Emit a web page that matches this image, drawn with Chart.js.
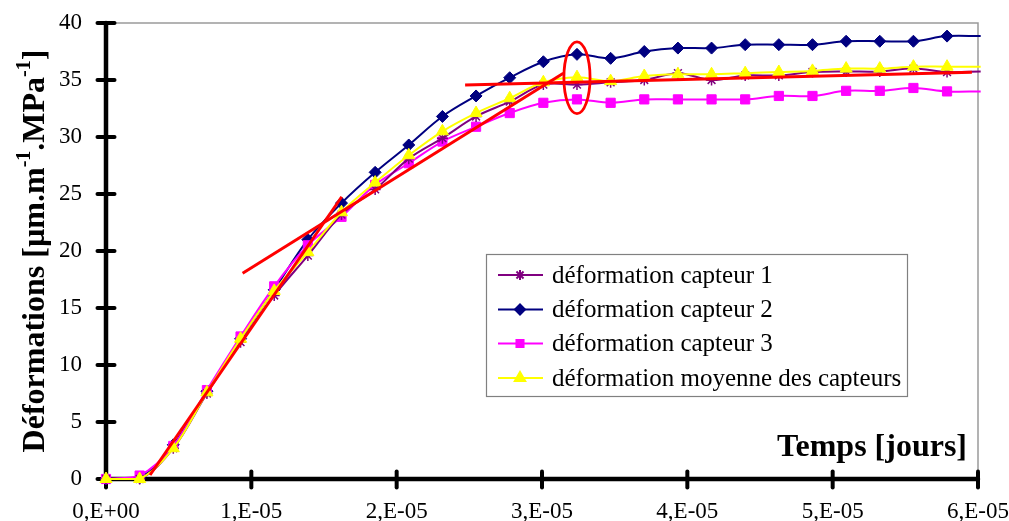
<!DOCTYPE html>
<html>
<head>
<meta charset="utf-8">
<script src="https://cdn.jsdelivr.net/npm/chart.js@4.4.1/dist/chart.umd.min.js"></script>
<style>
  html, body { margin: 0; padding: 0; background: #ffffff; }
  #wrap { position: relative; width: 1009px; height: 521px; }
</style>
</head>
<body>
<div id="wrap"><canvas id="c" width="1009" height="521"></canvas></div>
<script>
// ---- data ----
const timeDays = [0, 2.315e-6, 4.630e-6, 6.944e-6, 9.259e-6, 1.1574e-5, 1.3889e-5, 1.6204e-5, 1.8519e-5,
  2.0833e-5, 2.3148e-5, 2.5463e-5, 2.7778e-5, 3.0093e-5, 3.2407e-5, 3.4722e-5, 3.7037e-5, 3.9352e-5,
  4.1667e-5, 4.3981e-5, 4.6296e-5, 4.8611e-5, 5.0926e-5, 5.3241e-5, 5.5556e-5, 5.7870e-5, 6.0185e-5];
const capteur1 = [0, 0.0, 2.7, 7.5, 12.0, 16.1, 19.6, 23.2, 25.4, 28.1, 29.9, 31.8, 33.1, 34.6, 34.6,
  34.8, 35.0, 35.6, 35.0, 35.4, 35.4, 35.7, 35.75, 35.75, 36.0, 35.7, 35.75];
const capteur2 = [0, 0.1, 3.0, 7.7, 12.3, 16.6, 21.0, 24.2, 26.9, 29.3, 31.8, 33.6, 35.2, 36.6, 37.25,
  36.9, 37.5, 37.8, 37.8, 38.1, 38.1, 38.1, 38.4, 38.4, 38.4, 38.85, 38.85];
const capteur3 = [0, 0.3, 2.9, 7.8, 12.5, 16.9, 20.5, 23.0, 25.8, 27.7, 29.6, 30.9, 32.1, 33.0, 33.3,
  33.0, 33.3, 33.3, 33.3, 33.3, 33.6, 33.6, 34.05, 34.05, 34.3, 34.0, 34.0];
const moyenne = [0, 0.0, 2.7, 7.6, 12.3, 16.5, 19.9, 23.4, 26.0, 28.4, 30.5, 32.1, 33.4, 34.8, 35.25,
  34.9, 35.35, 35.5, 35.5, 35.6, 35.7, 35.8, 36.0, 36.0, 36.17, 36.17, 36.17];
const seriesLabels = ['déformation capteur 1', 'déformation capteur 2', 'déformation capteur 3', 'déformation moyenne des capteurs'];
// red construction lines (x in days, y in strain units)
const redSteep = [[0.303e-5, 0.35], [1.622e-5, 24.76]];
const redMid = [[0.94e-5, 18.05], [3.147e-5, 35.6]];
const redFlat = [[2.471e-5, 34.56], [5.958e-5, 35.67]];
const ellipseMark = [3.2407e-5, 35.2, 0.09e-5, 3.15]; // centre x, centre y, radius x, radius y (data units)
const xTickLabels = ['0,E+00', '1,E-05', '2,E-05', '3,E-05', '4,E-05', '5,E-05', '6,E-05'];
const yTickValues = [0, 5, 10, 15, 20, 25, 30, 35, 40];
const yTitleParts = [['Déformations [µm.m', false], ['-1', true], ['.MPa', false], ['-1', true], [']', false]];
const xTitle = 'Temps [jours]';

// ---- helpers ----
const pts = (ys) => ys.map((y, i) => ({ x: timeDays[i], y: y }));
const seg = (arr) => arr.map(p => ({ x: p[0], y: p[1] }));
const lastHidden = (r) => timeDays.map((t, i) => i === timeDays.length - 1 ? 0 : r);

const SERIF = "'Liberation Serif', 'Times New Roman', serif";

const styles = [
  { color: '#800080', point: 'star', r: 5.5, order: 3 },
  { color: '#000080', point: 'rectRot', r: 6, order: 5 },
  { color: '#FF00FF', point: 'rect', r: 6.5, order: 4 },
  { color: '#FFFF00', point: 'triangle', r: 7, order: 2 }
];
const seriesData = [capteur1, capteur2, capteur3, moyenne];

const datasets = seriesData.map((d, k) => ({
  label: seriesLabels[k],
  data: pts(d),
  borderColor: styles[k].color,
  backgroundColor: styles[k].color,
  pointBorderColor: styles[k].color,
  pointBackgroundColor: styles[k].color,
  pointStyle: styles[k].point,
  pointRadius: lastHidden(styles[k].r),
  pointBorderWidth: k === 0 ? 1.5 : 1,
  borderWidth: 2,
  tension: 0.35,
  order: styles[k].order,
  clip: 8
}));
[redSteep, redMid, redFlat].forEach((s) => datasets.push({
  label: '',
  data: seg(s),
  borderColor: '#FF0000',
  borderWidth: 3,
  pointRadius: 0,
  tension: 0,
  order: 0
}));

const frame = {
  id: 'frame',
  beforeDatasetsDraw(chart) {
    const { ctx, chartArea: a, scales } = chart;
    ctx.save();
    ctx.strokeStyle = '#9a9a9a';
    ctx.lineWidth = 1.5;
    ctx.beginPath();
    ctx.moveTo(a.left, a.top); ctx.lineTo(a.right, a.top); ctx.lineTo(a.right, a.bottom);
    ctx.stroke();
    ctx.strokeStyle = '#000';
    ctx.lineWidth = 4.5;
    ctx.lineCap = 'round';
    ctx.beginPath();
    ctx.moveTo(a.left, a.top); ctx.lineTo(a.left, a.bottom); ctx.lineTo(a.right, a.bottom);
    ctx.stroke();
    ctx.lineWidth = 4;
    scales.y.ticks.forEach(t => {
      const py = scales.y.getPixelForValue(t.value);
      ctx.beginPath(); ctx.moveTo(a.left - 8.5, py); ctx.lineTo(a.left + 8.5, py); ctx.stroke();
    });
    scales.x.ticks.forEach(t => {
      const px = scales.x.getPixelForValue(t.value);
      ctx.beginPath(); ctx.moveTo(px, a.bottom - 7.5); ctx.lineTo(px, a.bottom + 8.5); ctx.stroke();
    });
    ctx.restore();
  },
  afterDatasetsDraw(chart) {
    const { ctx, scales } = chart;
    const cx = scales.x.getPixelForValue(ellipseMark[0]);
    const cy = scales.y.getPixelForValue(ellipseMark[1]);
    const rx = Math.abs(scales.x.getPixelForValue(ellipseMark[0] + ellipseMark[2]) - cx);
    const ry = Math.abs(scales.y.getPixelForValue(ellipseMark[1] + ellipseMark[3]) - cy);
    ctx.save();
    ctx.strokeStyle = '#FF0000';
    ctx.lineWidth = 2.8;
    ctx.beginPath();
    ctx.ellipse(cx, cy, rx, ry, 0, 0, Math.PI * 2);
    ctx.stroke();
    ctx.restore();
  },
  afterDraw(chart) {
    const { ctx, chartArea: a } = chart;
    ctx.save();
    const fs = 32, sfs = 20;
    ctx.fillStyle = '#000';
    ctx.textBaseline = 'alphabetic';
    ctx.textAlign = 'left';
    let total = 0;
    yTitleParts.forEach(([t, sup]) => {
      ctx.font = 'bold ' + (sup ? sfs : fs) + 'px ' + SERIF;
      total += ctx.measureText(t).width;
    });
    ctx.translate(44, (a.top + a.bottom) / 2);
    ctx.rotate(-Math.PI / 2);
    let xx = -total / 2;
    yTitleParts.forEach(([t, sup]) => {
      ctx.font = 'bold ' + (sup ? sfs : fs) + 'px ' + SERIF;
      ctx.fillText(t, xx, sup ? -14 : 0);
      xx += ctx.measureText(t).width;
    });
    ctx.restore();

    ctx.save();
    ctx.font = 'bold 32px ' + SERIF;
    ctx.fillStyle = '#000';
    ctx.textAlign = 'right';
    ctx.textBaseline = 'alphabetic';
    ctx.fillText(xTitle, 967, 456);
    ctx.restore();

    const lx = 486, ly = 254, lw = 421, lh = 142;
    ctx.save();
    ctx.fillStyle = '#fff';
    ctx.fillRect(lx, ly, lw, lh);
    ctx.strokeStyle = '#808080';
    ctx.lineWidth = 1.2;
    ctx.strokeRect(lx + 0.5, ly + 0.5, lw, lh);
    const rows = [275, 309.5, 343.5, 378];
    chart.data.datasets.slice(0, 4).forEach((ds, k) => {
      const y = rows[k];
      ctx.strokeStyle = ds.borderColor;
      ctx.lineWidth = 2;
      ctx.beginPath(); ctx.moveTo(498, y); ctx.lineTo(543, y); ctx.stroke();
      ctx.fillStyle = ds.borderColor;
      Chart.helpers.drawPoint(ctx, { pointStyle: ds.pointStyle, radius: k === 3 ? 6 : 5, borderWidth: 1.5, rotation: 0 }, 520, y);
      if (ds.pointStyle !== 'star') ctx.fill();
      ctx.fillStyle = '#000';
      ctx.font = '25px ' + SERIF;
      ctx.textAlign = 'left';
      ctx.textBaseline = 'middle';
      ctx.fillText(ds.label, 552, y + 1);
    });
    ctx.restore();
  }
};

new Chart(document.getElementById('c'), {
  type: 'line',
  data: { datasets },
  options: {
    responsive: false,
    animation: false,
    events: [],
    layout: { padding: { left: 0, right: 31, top: 23, bottom: 0 } },
    plugins: { legend: { display: false }, tooltip: { enabled: false }, title: { display: false } },
    scales: {
      x: {
        type: 'linear',
        min: 0, max: 6e-5,
        grid: { display: false },
        border: { display: false },
        afterBuildTicks(scale) { scale.ticks = xTickLabels.map((l, i) => ({ value: i * 1e-5 })); },
        afterFit(scale) { scale.height = 42; scale.paddingLeft = 0; scale.paddingRight = 0; },
        ticks: {
          color: '#000',
          font: { family: SERIF, size: 23 },
          padding: 11,
          maxRotation: 0,
          autoSkip: false,
          callback: (v, i) => xTickLabels[i]
        }
      },
      y: {
        type: 'linear',
        min: 0, max: 40,
        grid: { display: false },
        border: { display: false },
        afterBuildTicks(scale) { scale.ticks = yTickValues.map(v => ({ value: v })); },
        afterFit(scale) { scale.width = 106; scale.paddingTop = 0; scale.paddingBottom = 0; },
        ticks: {
          color: '#000',
          font: { family: SERIF, size: 23 },
          padding: 16,
          callback: (v) => String(v)
        }
      }
    }
  },
  plugins: [frame]
});
</script>
</body>
</html>
